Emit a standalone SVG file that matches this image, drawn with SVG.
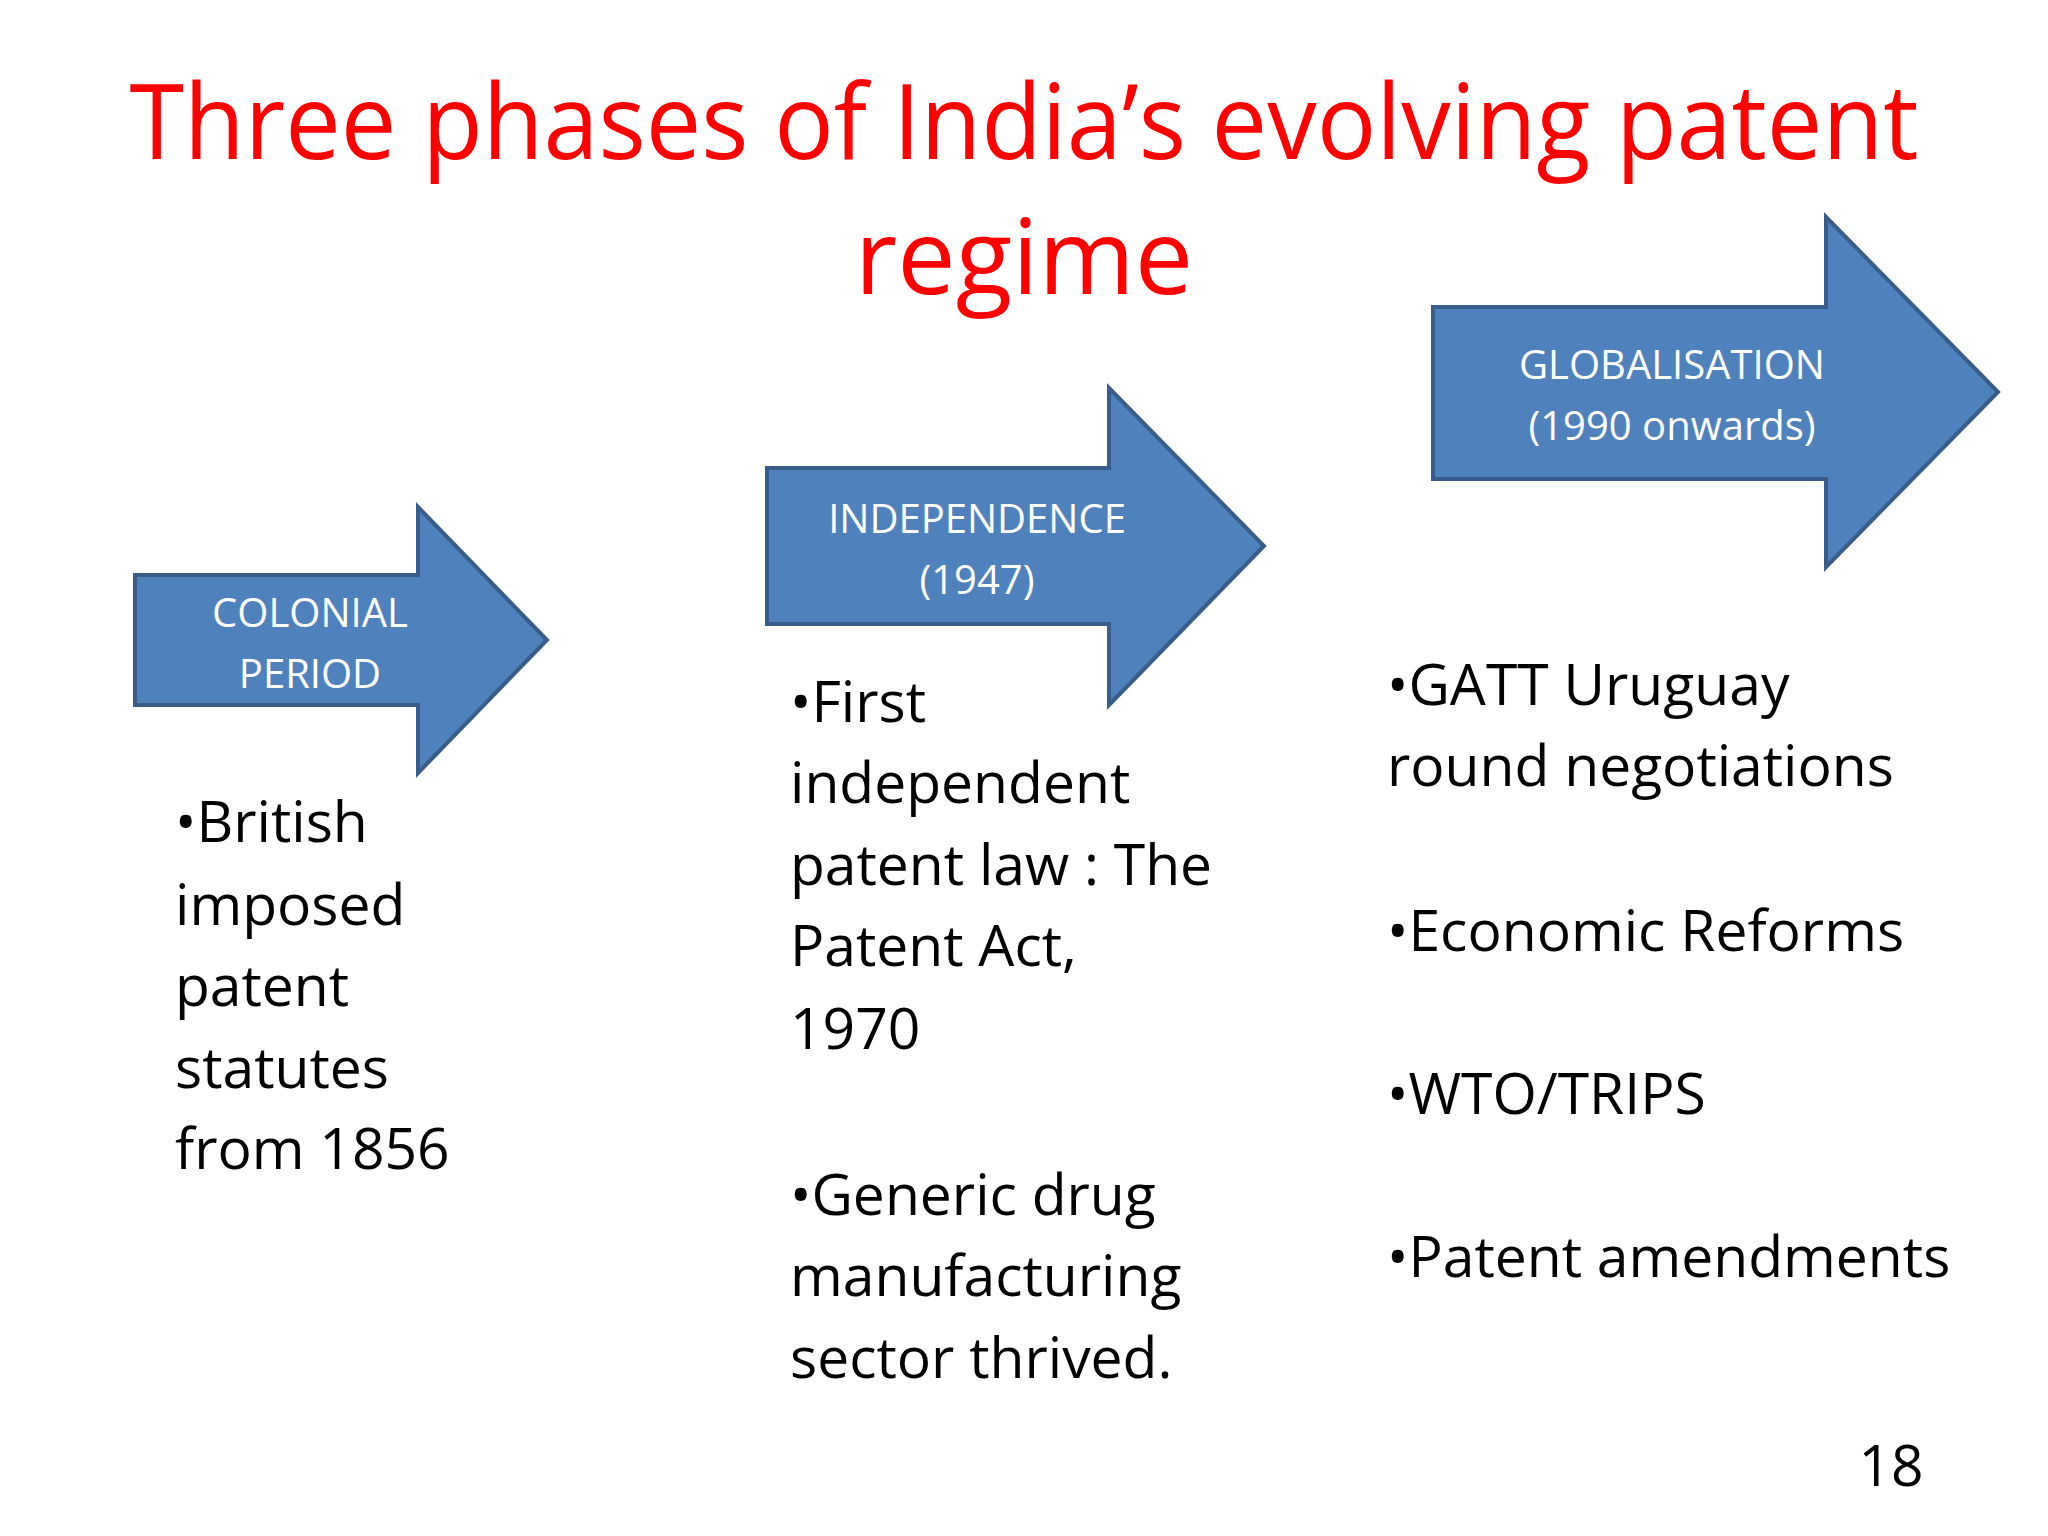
<svg xmlns="http://www.w3.org/2000/svg" width="2048" height="1536" viewBox="0 0 2048 1536">
<style>
.t{font-family:"Open Sans","Noto Sans",sans-serif;fill:#FF0000;font-size:104px;text-anchor:middle}
.a{fill:#4F81BD;stroke:#385D8A;stroke-width:4}
.l{font-family:"Open Sans","Noto Sans",sans-serif;fill:#fff;font-size:40px;text-anchor:middle}
.b{font-family:"Open Sans","Noto Sans",sans-serif;fill:#000;font-size:57px}
</style>
<rect width="2048" height="1536" fill="#fff"/>
<text class="t" x="1024" y="159" textLength="1789" lengthAdjust="spacingAndGlyphs">Three phases of India’s evolving patent</text>
<text class="t" x="1024" y="294">regime</text>
<g id="colonial">
<polygon class="a" points="135,575 418,575 418,507 547,640 418,773 418,705 135,705"/>
<text class="l" x="310" y="627">COLONIAL</text>
<text class="l" x="310" y="688">PERIOD</text>
</g>
<g id="independence">
<polygon class="a" points="767,468 1109,468 1109,388 1264,546 1109,705 1109,624 767,624"/>
<text class="l" x="977" y="533">INDEPENDENCE</text>
<text class="l" x="977" y="594">(1947)</text>
</g>
<g id="globalisation">
<polygon class="a" points="1433,307 1826,307 1826,217 1998,392 1826,567 1826,479 1433,479"/>
<text class="l" x="1672" y="379">GLOBALISATION</text>
<text class="l" x="1672" y="440">(1990 onwards)</text>
</g>
<g id="connectors"/>
<g id="col-text" class="b">
<text class="b" x="175" y="842">•British</text>
<text class="b" x="175" y="925">imposed</text>
<text class="b" x="175" y="1006">patent</text>
<text class="b" x="175" y="1088">statutes</text>
<text class="b" x="175" y="1169">from 1856</text>
</g>
<g id="ind-text">
<text class="b" x="790" y="722">•First</text>
<text class="b" x="790" y="803">independent</text>
<text class="b" x="790" y="885">patent law : The</text>
<text class="b" x="790" y="966">Patent Act,</text>
<text class="b" x="790" y="1049">1970</text>
<text class="b" x="790" y="1215">•Generic drug</text>
<text class="b" x="790" y="1296">manufacturing</text>
<text class="b" x="790" y="1378">sector thrived.</text>
</g>
<g id="glob-text">
<text class="b" x="1387" y="705">•GATT Uruguay</text>
<text class="b" x="1387" y="786">round negotiations</text>
<text class="b" x="1387" y="951">•Economic Reforms</text>
<text class="b" x="1387" y="1114">•WTO/TRIPS</text>
<text class="b" x="1387" y="1277">•Patent amendments</text>
</g>
<text class="b" x="1891" y="1486" text-anchor="middle" font-size="52">18</text>
</svg>
